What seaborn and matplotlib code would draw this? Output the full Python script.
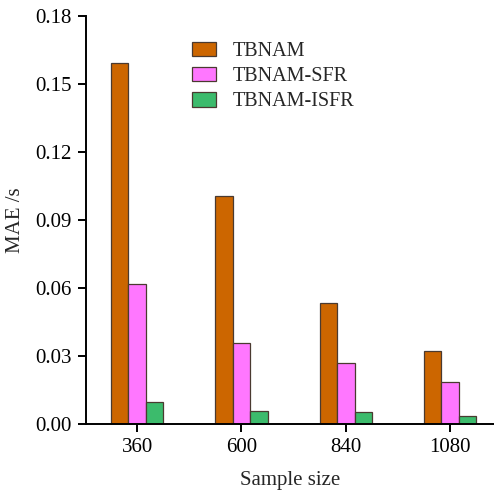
import matplotlib
matplotlib.use('Agg')
import matplotlib.pyplot as plt
import seaborn as sns
import pandas as pd

# values
sample_sizes = ['360', '600', '840', '1080']
tbnam      = [0.1593, 0.1007, 0.0533, 0.0323]
tbnam_sfr  = [0.0619, 0.0356, 0.0269, 0.0184]
tbnam_isfr = [0.0096, 0.0057, 0.0052, 0.0037]
methods = ['TBNAM', 'TBNAM-SFR', 'TBNAM-ISFR']
y_ticks = [0.00, 0.03, 0.06, 0.09, 0.12, 0.15, 0.18]

rows = []
for m, vals in zip(methods, [tbnam, tbnam_sfr, tbnam_isfr]):
    for s, v in zip(sample_sizes, vals):
        rows.append({'Sample size': s, 'MAE': v, 'Method': m})
df = pd.DataFrame(rows)

sns.set_style('ticks')
plt.rcParams['font.family'] = ['Liberation Serif', 'DejaVu Serif']

palette = {'TBNAM': '#CC6600', 'TBNAM-SFR': '#FF77FF', 'TBNAM-ISFR': '#3CBB6C'}

fig = plt.figure(figsize=(4.94, 4.90), dpi=100)
ax = fig.add_axes([86 / 494, 66 / 490, 408 / 494, 408 / 490])

sns.barplot(data=df, x='Sample size', y='MAE', hue='Method', order=sample_sizes,
            hue_order=methods, palette=palette, width=0.5, saturation=1,
            edgecolor='#4a3a30', linewidth=0.9, ax=ax)

ax.set_xlim(-0.49, 3.42)
ax.set_ylim(0, 0.18)
ax.set_yticks(y_ticks)
ax.set_yticklabels([f'{t:.2f}' for t in y_ticks])
sns.despine(ax=ax)
for side in ['left', 'bottom']:
    ax.spines[side].set_linewidth(1.4)
    ax.spines[side].set_color('black')
ax.tick_params(axis='both', direction='out', length=6, width=1.4, labelsize=15,
               colors='black', pad=4)
ax.set_xlabel('Sample size', fontsize=15, labelpad=10)
ax.set_ylabel('MAE /s', fontsize=15, labelpad=8)

ax.legend(loc='upper left', bbox_to_anchor=(0.26, 0.937), frameon=False,
          fontsize=14.5, handlelength=1.2, handleheight=0.75, handletextpad=0.8,
          labelspacing=0.28, borderaxespad=0, borderpad=0)

fig.savefig('out.png', dpi=100)
